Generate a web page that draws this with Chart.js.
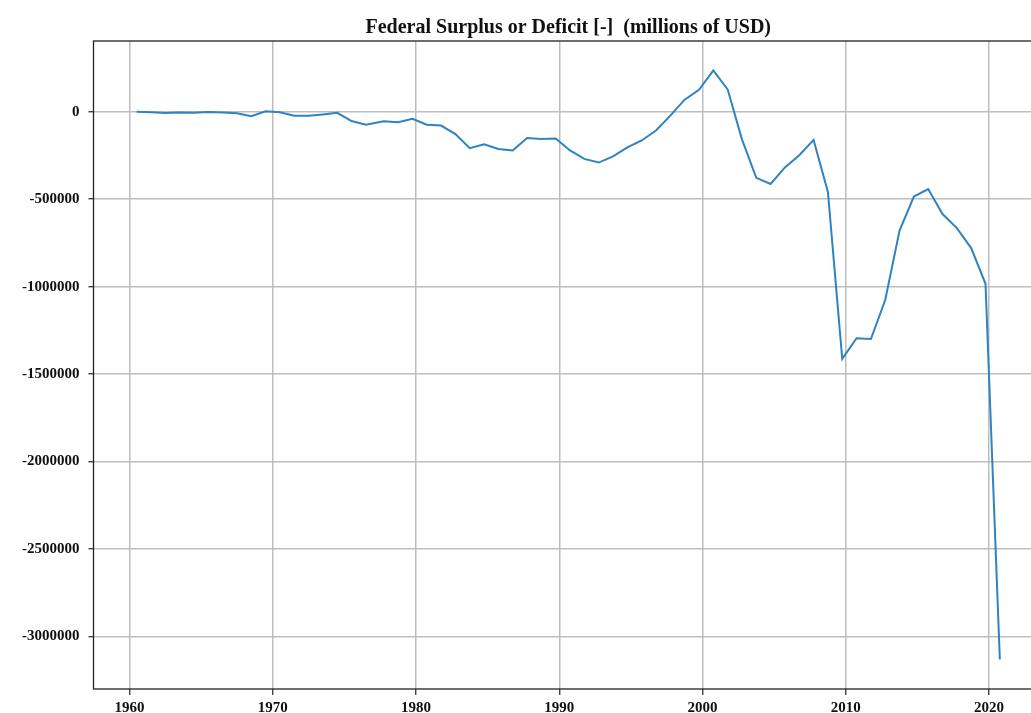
<!DOCTYPE html>
<html>
<head>
<meta charset="utf-8">
<script src="https://cdn.jsdelivr.net/npm/chart.js@4"></script>
<style>
  html, body { margin: 0; padding: 0; background: #fff; overflow: hidden; }
  canvas { display: block; }
</style>
</head>
<body>
<canvas id="deficitChart" width="1060" height="713"></canvas>
<script>
// fiscal years and federal surplus (+) / deficit (-), millions of USD
const years = [
  1960, 1961, 1962, 1963, 1964, 1965, 1966, 1967, 1968, 1969,
  1970, 1971, 1972, 1973, 1974, 1975, 1976, 1977, 1978, 1979,
  1980, 1981, 1982, 1983, 1984, 1985, 1986, 1987, 1988, 1989,
  1990, 1991, 1992, 1993, 1994, 1995, 1996, 1997, 1998, 1999,
  2000, 2001, 2002, 2003, 2004, 2005, 2006, 2007, 2008, 2009,
  2010, 2011, 2012, 2013, 2014, 2015, 2016, 2017, 2018, 2019,
  2020
];
const surplus = [
  301, -3335, -7146, -4756, -5915, -1411, -3698, -8643, -25161, 3242,
  -2842, -23033, -23373, -14908, -6135, -53242, -73732, -53659, -59185, -40726,
  -73830, -78968, -127977, -207802, -185367, -212308, -221227, -149730, -155178, -152639,
  -221036, -269238, -290321, -255051, -203186, -163952, -107431, -21884, 69270, 125610,
  236241, 128236, -157758, -377585, -412727, -318346, -248181, -160701, -458553, -1412688,
  -1294373, -1299593, -1076573, -679775, -484602, -441960, -584651, -665446, -779137, -983588,
  -3131917
];
const yTicks = [0, -500000, -1000000, -1500000, -2000000, -2500000, -3000000];
const xTicks = [1960, 1970, 1980, 1990, 2000, 2010, 2020];

const title = "Federal Surplus or Deficit [-]  (millions of USD)";

// points sit at the fiscal year end: June 30 up to 1976, Sept 30 afterwards
const points = years.map((y, i) => ({ x: y + (y < 1977 ? 0.5 : 0.75), y: surplus[i] }));

const xs = points.map(p => p.x);
const xMin = Math.min(...xs), xMax = Math.max(...xs);
const yMin = Math.min(...surplus), yMax = Math.max(...surplus);
const xPad = (xMax - xMin) * 0.05, yPad = (yMax - yMin) * 0.05;

const tickFont = { family: "'Liberation Serif', 'Times New Roman', serif", size: 15, weight: "bold" };

const frame = {
  id: "frame",
  afterDraw(chart) {
    const { ctx, chartArea: a } = chart;
    ctx.save();
    ctx.strokeStyle = "#222";
    ctx.lineWidth = 1.3;
    ctx.strokeRect(a.left, a.top, a.right - a.left, a.bottom - a.top);
    ctx.fillStyle = "#111";
    ctx.font = "bold 20px 'Liberation Serif', 'Times New Roman', serif";
    ctx.textAlign = "center";
    ctx.textBaseline = "alphabetic";
    ctx.fillText(title, (a.left + a.right) / 2, 33);
    ctx.restore();
  }
};

new Chart(document.getElementById("deficitChart").getContext("2d"), {
  type: "line",
  data: {
    datasets: [{
      data: points,
      borderColor: "#3082c0",
      borderWidth: 2,
      tension: 0,
      pointRadius: 0,
      fill: false
    }]
  },
  options: {
    responsive: false,
    animation: false,
    layout: { padding: { left: 0, right: 17, top: 41, bottom: 0 } },
    plugins: {
      legend: { display: false },
      tooltip: { enabled: false }
    },
    scales: {
      x: {
        type: "linear",
        min: xMin - xPad,
        max: xMax + xPad,
        afterBuildTicks: s => { s.ticks = xTicks.map(v => ({ value: v })); },
        afterFit: s => { s.height = 24; },
        ticks: {
          color: "#111",
          font: tickFont,
          padding: 4,
          maxRotation: 0,
          callback: v => String(v)
        },
        grid: { color: "#bdbdbd", lineWidth: 1.5, tickColor: "#222", tickLength: 6, tickWidth: 1.2 },
        border: { display: false }
      },
      y: {
        min: yMin - yPad,
        max: yMax + yPad,
        afterBuildTicks: s => { s.ticks = yTicks.map(v => ({ value: v })); },
        afterFit: s => { s.width = 93.5; },
        ticks: {
          color: "#111",
          font: tickFont,
          padding: 9,
          callback: v => String(v)
        },
        grid: { color: "#bdbdbd", lineWidth: 1.5, tickColor: "#222", tickLength: 5, tickWidth: 1.2 },
        border: { display: false }
      }
    }
  },
  plugins: [frame]
});
</script>
</body>
</html>
